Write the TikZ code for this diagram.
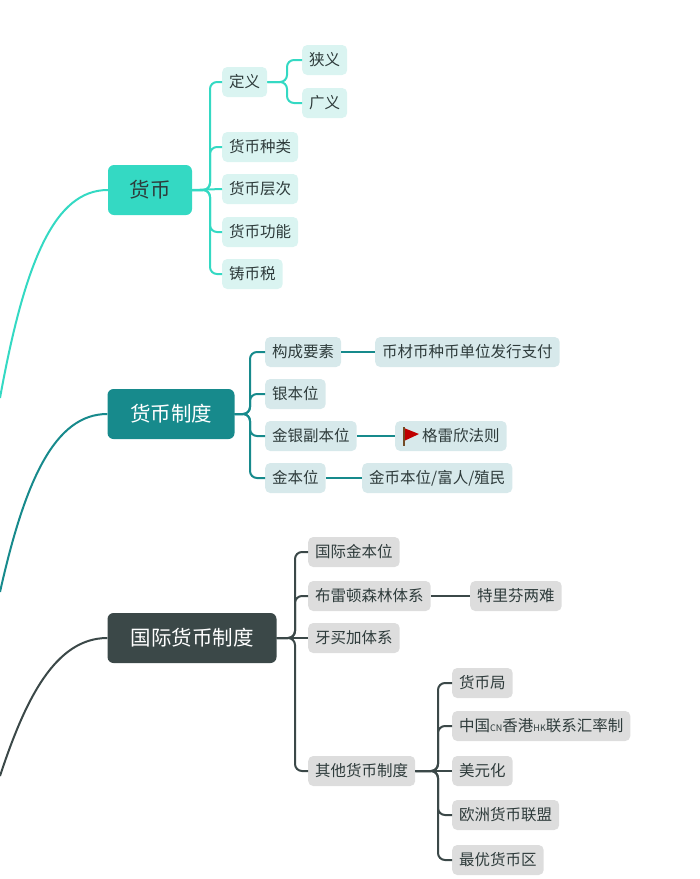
\documentclass[tikz,border=0pt]{standalone}
\usepackage{fontspec}
\setmainfont{Noto Sans CJK SC}
\usetikzlibrary{calc}
\definecolor{cA}{HTML}{34D9C3}
\definecolor{cAl}{HTML}{DAF4F1}
\definecolor{cB}{HTML}{178A8C}
\definecolor{cBl}{HTML}{D7E9EB}
\definecolor{cC}{HTML}{3B4848}
\definecolor{cCl}{HTML}{DDDDDD}
\definecolor{txt}{HTML}{2E3B3B}
\tikzset{
 leaf/.style={rounded corners=5pt,minimum height=30pt,inner xsep=7pt,font=\fontsize{15.5}{17}\selectfont,text=txt},
 la/.style={leaf,fill=cAl},
 lb/.style={leaf,fill=cBl},
 lc/.style={leaf,fill=cCl},
 mainbox/.style={rounded corners=6pt,minimum height=50pt,inner xsep=12pt,font=\fontsize{20.5}{23}\selectfont},
 ca/.style={draw=cA,line width=2pt,rounded corners=7pt},
 cb/.style={draw=cB,line width=2pt,rounded corners=7pt},
 cc/.style={draw=cC,line width=2pt,rounded corners=7pt},
}
\begin{document}
\begin{tikzpicture}[x=1pt,y=-1pt]
\useasboundingbox (0,0) rectangle (700,879);
% main nodes
\node[mainbox,fill=cA,text=txt,minimum width=84pt] (hb) at (150,190) {货币};
\node[mainbox,fill=cB,text=white,minimum width=127pt] (zd) at (171,414) {货币制度};
\node[mainbox,fill=cC,text=white,minimum width=169pt] (gj) at (192,638) {国际货币制度};
\coordinate (s1) at (0,398);
\coordinate (s2) at (0,592);
\coordinate (s3) at (0,776);
\draw[draw=cA,line width=2pt] (s1) .. controls (25,260) and (55,190) .. (hb.west);
\draw[draw=cB,line width=2pt] (s2) .. controls (25,480) and (55,414) .. (zd.west);
\draw[draw=cC,line width=2pt] (s3) .. controls (25,700) and (55,638) .. (gj.west);
% level 1 of 货币
\node[la,anchor=west] (dy) at (222,82) {定义};
\node[la,anchor=west] (xy) at (302,60) {狭义};
\node[la,anchor=west] (gy) at (302,103) {广义};
\node[la,anchor=west] (zl) at (222,147) {货币种类};
\node[la,anchor=west] (cc) at (222,189) {货币层次};
\node[la,anchor=west] (gn) at (222,232) {货币功能};
\node[la,anchor=west] (zb) at (222,274) {铸币税};
\foreach \n in {dy,zl,gn,zb}{\draw[ca] (hb.east) -- (210,190) |- (\n.west);}
\draw[ca] (hb.east) -- (cc.west);
\foreach \n in {xy,gy}{\draw[ca] (dy.east) -- (287,82) |- (\n.west);}
% 货币制度
\node[lb,anchor=west] (gc) at (265,352) {构成要素};
\node[lb,anchor=west] (bc) at (375,352) {币材币种币单位发行支付};
\node[lb,anchor=west] (yb) at (265,394) {银本位};
\node[lb,anchor=west] (jy) at (265,436) {金银副本位};
\node[lb,anchor=west] (gl) at (395,436) {\hspace{20pt}格雷欣法则};
\node[lb,anchor=west] (jb) at (265,478) {金本位};
\node[lb,anchor=west] (jbw) at (362,478) {金币本位/富人/殖民};
\foreach \n in {gc,yb,jy,jb}{\draw[cb] (zd.east) -- (250,414) |- (\n.west);}
\draw[cb] (gc.east) -- (bc.west);
\draw[cb] (jy.east) -- (gl.west);
\draw[cb] (jb.east) -- (jbw.west);
% flag
\fill[red!75!black] (404,428) -- (419,434) -- (404,441) -- cycle;
\draw[line width=1.2pt,brown!60!black] (404,427) -- (404,446);
% 国际货币制度
\node[lc,anchor=west] (gjj) at (308,552) {国际金本位};
\node[lc,anchor=west] (blt) at (308,596) {布雷顿森林体系};
\node[lc,anchor=west] (tlf) at (470,596) {特里芬两难};
\node[lc,anchor=west] (ymj) at (308,638) {牙买加体系};
\node[lc,anchor=west] (qt) at (308,771) {其他货币制度};
\foreach \n in {gjj,blt,qt}{\draw[cc] (gj.east) -- (295,638) |- (\n.west);}
\draw[cc] (gj.east) -- (ymj.west);
\draw[cc] (blt.east) -- (tlf.west);
\node[lc,anchor=west] (hbj) at (452,683) {货币局};
\node[lc,anchor=west] (lx) at (452,726) {中国{\fontsize{9}{10}\selectfont CN}香港{\fontsize{9}{10}\selectfont HK}联系汇率制};
\node[lc,anchor=west] (myh) at (452,771) {美元化};
\node[lc,anchor=west] (oz) at (452,815) {欧洲货币联盟};
\node[lc,anchor=west] (zy) at (452,860) {最优货币区};
\foreach \n in {hbj,lx,oz,zy}{\draw[cc] (qt.east) -- (438,771) |- (\n.west);}
\draw[cc] (qt.east) -- (myh.west);
\end{tikzpicture}
\end{document}
